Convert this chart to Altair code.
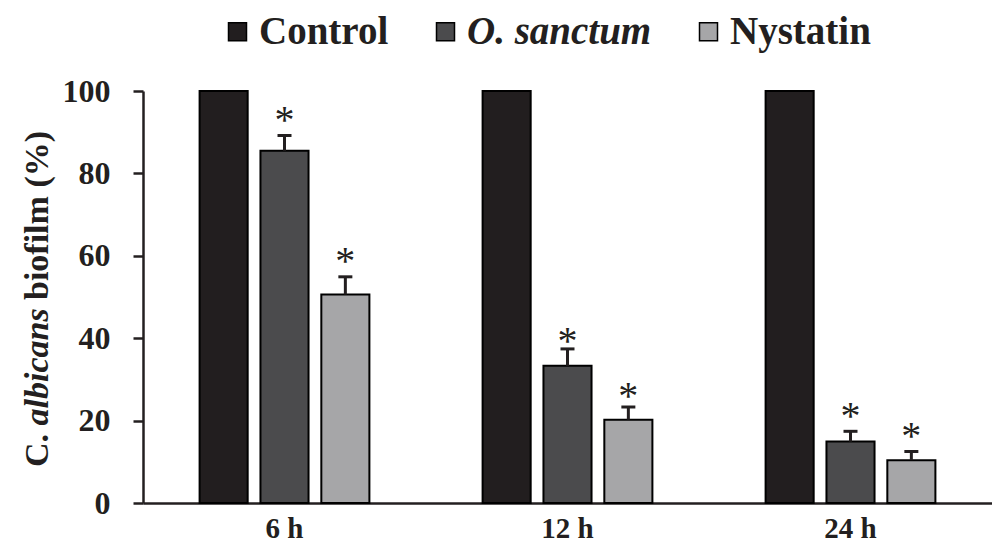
import altair as alt
import pandas as pd

times = ["6 h", "12 h", "24 h"]
groups = ["Control", "O. sanctum", "Nystatin"]
colors = ["#221e1f", "#4b4b4d", "#a6a6a8"]

control = [100, 100, 100]
sanctum = [85.5, 33.3, 14.9]
nystatin = [50.6, 20.2, 10.4]
sanctum_err = [3.7, 4.1, 2.5]
nystatin_err = [4.3, 3.1, 2.1]
sanctum_star = [93.9, 40.3, 22.1]
nystatin_star = [59.7, 26.9, 17.2]
y_ticks = [0, 20, 40, 60, 80, 100]

FONT = "Liberation Serif"
INK = "#231f20"

rows = []
for i, t in enumerate(times):
    rows.append({"time": t, "group": "Control", "value": control[i]})
    rows.append({"time": t, "group": "O. sanctum", "value": sanctum[i]})
    rows.append({"time": t, "group": "Nystatin", "value": nystatin[i]})
bars_df = pd.DataFrame(rows)

erows = []
for i, t in enumerate(times):
    erows.append({"time": t, "group": "O. sanctum", "value": sanctum[i],
                  "upper": sanctum[i] + sanctum_err[i], "star": sanctum_star[i]})
    erows.append({"time": t, "group": "Nystatin", "value": nystatin[i],
                  "upper": nystatin[i] + nystatin_err[i], "star": nystatin_star[i]})
err_df = pd.DataFrame(erows)

X = alt.X("time:N", sort=times,
          scale=alt.Scale(domain=times, paddingInner=0.4, paddingOuter=0.2),
          axis=alt.Axis(title=None, labelAngle=0, ticks=False, tickSize=0,
                        labelFontSize=29, labelPadding=11))
XO = alt.XOffset("group:N", sort=groups,
                 scale=alt.Scale(domain=groups, paddingInner=0.21, paddingOuter=0))
Y = alt.Y("value:Q", scale=alt.Scale(domain=[0, 100], nice=False),
          axis=alt.Axis(values=y_ticks, title=None, tickSize=10,
                        labelFontSize=32, labelPadding=23))

legend = alt.Legend(
    title=None, orient="none", legendX=75, legendY=-79, direction="horizontal",
    symbolType="square", symbolSize=324, symbolStrokeColor="black",
    symbolStrokeWidth=1.5, symbolOpacity=1,
    labelFont=FONT, labelFontSize=39, labelFontWeight="bold",
    labelFontStyle=alt.ExprRef(expr="datum.label == 'O. sanctum' ? 'italic' : 'normal'"),
    labelColor=INK, labelOffset=2, columnPadding=37, padding=0, labelLimit=400,
)

bars = alt.Chart(bars_df).mark_bar(stroke="black", strokeWidth=2, opacity=1).encode(
    x=X, xOffset=XO, y=Y,
    color=alt.Color("group:N", sort=groups,
                    scale=alt.Scale(domain=groups, range=colors), legend=legend),
)

rules = alt.Chart(err_df).mark_rule(color=INK, strokeWidth=3).encode(
    x=X, xOffset=XO, y="value:Q", y2="upper:Q"
)
caps = alt.Chart(err_df).mark_tick(color=INK, thickness=3, size=14, opacity=1).encode(
    x=X, xOffset=XO, y="upper:Q"
)
stars = alt.Chart(err_df).mark_text(
    text="*", font=FONT, fontSize=40, color=INK, baseline="middle", dy=5
).encode(x=X, xOffset=XO, y="star:Q")


def title_piece(txt, ypos, style):
    return alt.Chart(pd.DataFrame({"t": [txt]})).mark_text(
        angle=270, align="left", baseline="alphabetic", font=FONT, fontSize=34,
        fontWeight="bold", fontStyle=style, color=INK,
    ).encode(x=alt.value(-95), y=alt.value(ypos), text="t:N")


t1 = title_piece("C.", 376, "normal")
t2 = title_piece("albicans", 334.5, "italic")
t3 = title_piece("biofilm (%)", 209, "normal")

chart = alt.layer(bars, rules, caps, stars, t1, t2, t3).properties(
    width=849, height=412,
    padding={"left": 135, "top": 83, "right": 0, "bottom": 41},
    autosize=alt.AutoSizeParams(type="none"),
    background="white",
).configure_view(stroke=None).configure_axis(
    labelFont=FONT, labelFontWeight="bold", labelColor=INK,
    domainColor=INK, domainWidth=2.5, tickColor=INK, tickWidth=2.5, grid=False,
)

chart.save("out.html", embed_options={"renderer": "svg", "actions": False})
